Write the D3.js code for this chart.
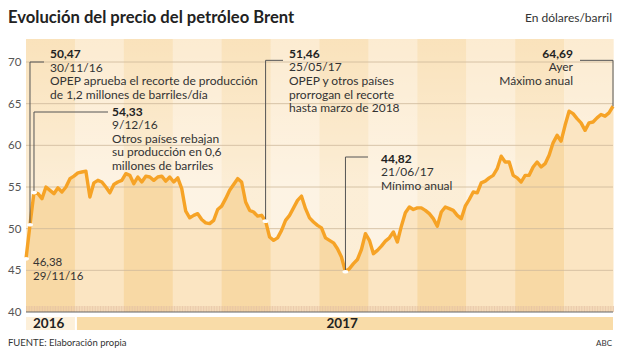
<!DOCTYPE html>
<html>
<head>
<meta charset="utf-8">
<script src="https://cdn.jsdelivr.net/npm/d3@7"></script>
<style>
  body { margin: 0; background: #fff; }
  text { font-family: Lato, "Open Sans", sans-serif; }
</style>
</head>
<body>
<div id="chart"></div>
<script>
// Brent, dólares/barril, every few sessions (29/11/16 -> ayer)
var prices = [
  46.38, 50.47, 54.33, 54.2, 53.6, 55.0, 54.6, 54.2, 54.9, 54.4,
  55.0, 56.0, 56.3, 56.7, 56.8, 56.9, 53.8, 55.5, 55.8, 55.6,
  55.0, 54.3, 55.3, 55.6, 55.8, 56.6, 56.4, 55.4, 56.2, 55.6,
  56.3, 56.2, 55.8, 56.2, 56.3, 55.7, 56.2, 55.6, 56.1, 54.8,
  52.1, 51.3, 51.6, 51.8, 51.1, 50.7, 50.6, 51.0, 52.3, 52.7,
  53.6, 54.6, 55.3, 56.0, 55.6, 53.2, 52.2, 52.0, 51.5, 51.6,
  50.9, 49.0, 48.6, 48.9, 49.8, 51.0, 51.6, 52.5, 53.4, 53.9,
  52.4, 51.3, 50.8, 50.4, 50.1, 48.9, 48.6, 48.3, 47.6, 46.6,
  44.82, 45.2, 45.8, 46.3, 47.5, 49.4, 48.6, 47.0, 47.4, 47.9,
  48.5, 48.9, 49.6, 48.4, 50.3, 51.9, 52.6, 52.3, 52.5, 52.5,
  52.2, 51.8, 51.2, 50.3, 52.0, 52.6, 52.4, 52.2, 51.6, 51.2,
  52.7, 53.5, 54.4, 54.3, 55.5, 55.7, 56.1, 56.4, 57.2, 58.7,
  58.0, 58.0, 56.4, 56.1, 55.6, 56.4, 56.4, 57.4, 58.0, 57.4,
  57.8, 58.8, 60.3, 61.2, 60.5, 62.4, 64.1, 63.8, 63.2, 62.7,
  61.8, 62.7, 62.8, 63.3, 63.7, 63.5, 63.9, 64.69
];

var months = ["dic", "ene", "feb", "mar", "abr", "may", "jun", "jul", "ago", "sep", "oct", "nov"];
var years = ["2016", "2017"];
var yTicks = [40, 45, 50, 55, 60, 65, 70];

// annotated sessions (index into prices) and their texts
var noteIdx = [1, 2, 60, 80, 147];
var noteValue = ["50,47", "54,33", "51,46", "44,82", "64,69"];
var noteText = [
  ["30/11/16", "OPEP aprueba el recorte de producción", "de 1,2 millones de barriles/día"],
  ["9/12/16", "Otros países rebajan", "su producción en 0,6", "millones de barriles"],
  ["25/05/17", "OPEP y otros países", "prorrogan el recorte", "hasta marzo de 2018"],
  ["21/06/17", "Mínimo anual"],
  ["Ayer", "Máximo anual"]
];
var startText = ["46,38", "29/11/16"];

var margin = {top: 39, right: 7, bottom: 37, left: 26},
    width = 620 - margin.left - margin.right,
    height = 349 - margin.top - margin.bottom;

var svg = d3.select("#chart")
    .append("svg")
    .attr("width", 620)
    .attr("height", 349);

// title
svg.append("text")
    .attr("x", 8).attr("y", 23)
    .style("font-size", "16.6px").style("font-weight", "700")
    .style("fill", "#222")
    .text("Evolución del precio del petróleo Brent");
svg.append("text")
    .attr("x", 612).attr("y", 22)
    .attr("text-anchor", "end")
    .style("font-size", "12px").style("fill", "#333")
    .text("En dólares/barril");

var g = svg.append("g")
    .attr("transform", "translate(" + margin.left + "," + margin.top + ")");

var x = d3.scaleLinear().domain([0, prices.length - 1]).range([0, width]);
var y = d3.scaleLinear().domain([40, 70]).range([height, 23]);
var xMonth = d3.scaleBand().domain(months).range([0, width]);

// month bands
g.selectAll(".band")
    .data(months).enter()
    .append("rect")
    .attr("x", function(d) { return xMonth(d); })
    .attr("y", 0)
    .attr("width", xMonth.bandwidth() + 0.5)
    .attr("height", height)
    .style("fill", function(d, i) { return i % 2 == 0 ? "#f8d9a5" : "#fbe5c2"; });

// wash out everything above the line
var defs = svg.append("defs");
var grad = defs.append("linearGradient")
    .attr("id", "wash")
    .attr("gradientUnits", "userSpaceOnUse")
    .attr("x1", 0).attr("y1", 0).attr("x2", 0).attr("y2", height);
grad.append("stop").attr("offset", "0").attr("stop-color", "#fff").attr("stop-opacity", 0.25);
grad.append("stop").attr("offset", "0.55").attr("stop-color", "#fff").attr("stop-opacity", 0.55);
grad.append("stop").attr("offset", "1").attr("stop-color", "#fff").attr("stop-opacity", 0.55);

var above = d3.area()
    .x(function(d, i) { return x(i); })
    .y0(0)
    .y1(function(d) { return y(d); });
g.append("path")
    .datum(prices)
    .attr("d", above)
    .style("fill", "url(#wash)");

// grid
g.selectAll(".grid")
    .data(yTicks.slice(1)).enter()
    .append("line")
    .attr("x1", 0).attr("x2", width)
    .attr("y1", function(d) { return y(d); })
    .attr("y2", function(d) { return y(d); })
    .style("stroke", "#cdb89a")
    .style("stroke-width", 0.8);

// y labels
g.selectAll(".ylab")
    .data(yTicks).enter()
    .append("text")
    .attr("x", -18)
    .attr("y", function(d) { return y(d) + 4; })
    .style("font-size", "11.5px").style("fill", "#555")
    .text(function(d) { return d; });

// daily tick hatch over the axis
var xDay = d3.scaleLinear().domain([0, 365]).range([0, width]);
var hatch = g.append("g")
    .attr("transform", "translate(0," + height + ")")
    .call(d3.axisTop(xDay).tickValues(d3.range(0, 366)).tickSize(6).tickFormat(""));
hatch.select(".domain").remove();
hatch.selectAll("line").style("stroke", "#e2bfa2").style("stroke-width", 0.7);

g.append("line")
    .attr("x1", 0).attr("x2", width)
    .attr("y1", height).attr("y2", height)
    .style("stroke", "#666").style("stroke-width", 1.2);

// year bar
var yearX = [xMonth("dic"), xMonth("ene") + 2];
var yearW = [xMonth.bandwidth(), width - xMonth("ene") - 2];
g.selectAll(".year")
    .data(years).enter()
    .append("rect")
    .attr("x", function(d, i) { return yearX[i]; })
    .attr("y", height + 5)
    .attr("width", function(d, i) { return yearW[i]; })
    .attr("height", 13)
    .style("fill", function(d, i) { return i == 0 ? "#fdf0da" : "#f9dca8"; });
g.selectAll(".yearlab")
    .data(years).enter()
    .append("text")
    .attr("x", function(d, i) { return i == 0 ? yearX[0] + 7 : xMonth("jun") + 7; })
    .attr("y", height + 16)
    .style("font-size", "13.5px").style("font-weight", "700").style("fill", "#222")
    .text(function(d) { return d; });

// the price line
var line = d3.line()
    .x(function(d, i) { return x(i); })
    .y(function(d) { return y(d); });
g.append("path")
    .datum(prices)
    .attr("d", line)
    .style("fill", "none")
    .style("stroke", "#f6a326")
    .style("stroke-width", 3.4)
    .style("stroke-linejoin", "round");

// annotations: elbow level (in dollars), end of the horizontal, text x, first baseline offset
var layout = [
  {level: 70,   hx: 18,  tx: 24,  dy: -4,  anchor: "start"},
  {level: 64,   hx: 82,  tx: 86,  dy: 3.5, anchor: "start"},
  {level: 70.2, hx: 257, tx: 263, dy: -2.5, anchor: "start"},
  {level: 58.6, hx: 342, tx: 355, dy: 5.5, anchor: "start"},
  {level: 70.2, hx: 554, tx: 547, dy: -2.5, anchor: "end"}
];

noteIdx.forEach(function(idx, n) {
    var L = layout[n];
    var px = x(idx), py = y(prices[idx]), ey = y(L.level);
    g.append("path")
        .attr("d", "M" + px + "," + py + "V" + ey + "H" + L.hx)
        .style("fill", "none").style("stroke", "#555").style("stroke-width", 1);

    var t = g.append("text")
        .attr("text-anchor", L.anchor)
        .style("font-size", "12px").style("fill", "#333");
    t.append("tspan")
        .attr("x", L.tx).attr("y", ey + L.dy)
        .style("font-weight", "700").style("fill", "#222")
        .text(noteValue[n]);
    noteText[n].forEach(function(s, k) {
        t.append("tspan")
            .attr("x", L.tx).attr("y", ey + L.dy + 13.6 * (k + 1))
            .text(s);
    });
});

// first session label
g.selectAll(".startlab")
    .data(startText).enter()
    .append("text")
    .attr("x", 7)
    .attr("y", function(d, i) { return y(prices[0]) + 7 + 14 * i; })
    .style("font-size", "11.5px").style("fill", "#333")
    .text(function(d) { return d; });

// white marks on the annotated sessions
g.selectAll(".mark")
    .data([0].concat(noteIdx.slice(0, 4))).enter()
    .append("ellipse")
    .attr("cx", function(d) { return x(d); })
    .attr("cy", function(d) { return y(prices[d]); })
    .attr("rx", 3).attr("ry", 1.8)
    .style("fill", "#fff");

// footer
svg.append("text")
    .attr("x", 8).attr("y", 346)
    .style("font-size", "9.5px").style("fill", "#333")
    .text("FUENTE: Elaboración propia");
svg.append("text")
    .attr("x", 612).attr("y", 346)
    .attr("text-anchor", "end")
    .style("font-size", "8px").style("fill", "#333")
    .text("ABC");
</script>
</body>
</html>
